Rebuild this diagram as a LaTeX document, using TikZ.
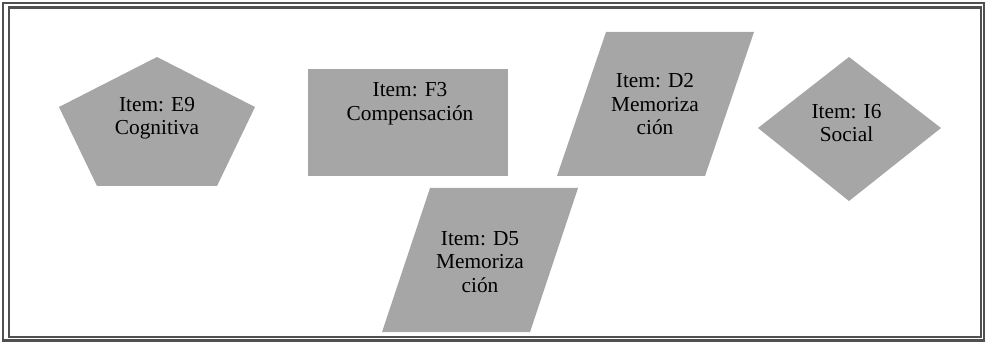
\documentclass[tikz,border=0pt]{standalone}
\usepackage{fontspec}
\setmainfont{Liberation Serif}

\definecolor{shapegray}{RGB}{166,166,166}
\definecolor{framegray}{RGB}{80,80,80}

\begin{document}
\begin{tikzpicture}[x=0.75pt,y=-0.75pt]

      \useasboundingbox (0,0) rectangle (985,342);

      % double frame
      \begin{scope}[draw=framegray,line width=1.8pt]
        \draw (3,3) rectangle (984,340.5);
        \draw (9,7.5) rectangle (981,337);
      \end{scope}

      % shapes
      \begin{scope}[fill=shapegray]
        \fill (157,57) -- (255,107) -- (217,186) -- (97,186) -- (59,107) -- cycle;
        \fill (308,69) rectangle (508,176);
        \fill (606,32) -- (754,32) -- (705,176) -- (557,176) -- cycle;
        \fill (430,188) -- (578,188) -- (530,332) -- (382,332) -- cycle;
        \fill (849,57) -- (941,128) -- (849,201) -- (758,128) -- cycle;
      \end{scope}

      \begin{scope}[every node/.style={anchor=north,inner sep=0pt,align=center,font=\fontsize{16}{17.6}\selectfont}]
        \node (e9) at (157,97) {Item: E9\\Cognitiva};
        \node (f3) at (410,82.3) {Item: F3\\Compensación};
        \node (d2) at (655,73.3) {Item: D2\\Memoriza\\ción};
        \node (d5) at (480,231) {Item: D5\\Memoriza\\ción};
        \node (i6) at (846.5,104) {Item: I6\\Social};
      \end{scope}

    \end{tikzpicture}
\end{document}
